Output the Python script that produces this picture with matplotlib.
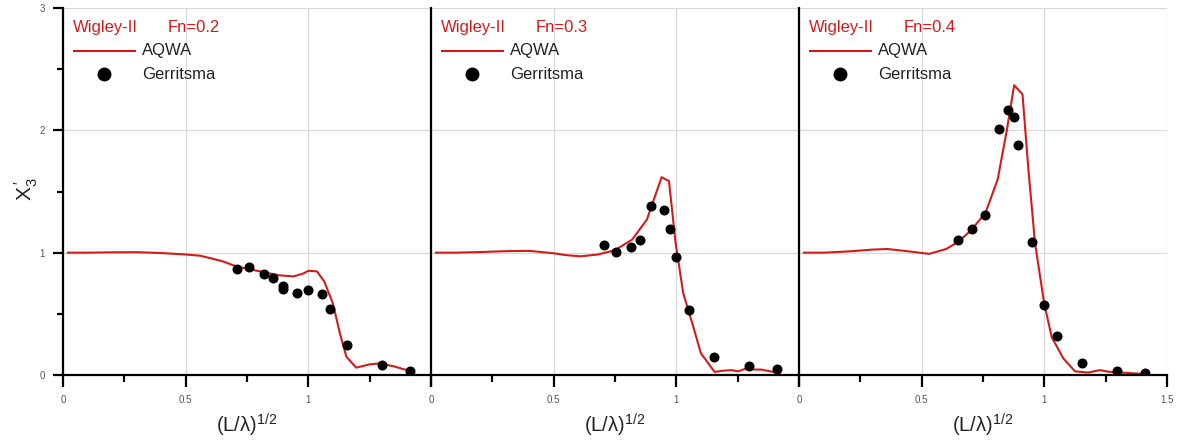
import numpy as np
from matplotlib import pyplot as plt

plt.rcParams['font.family'] = ['Liberation Sans', 'DejaVu Sans']
plt.rcParams['mathtext.fontset'] = 'custom'
plt.rcParams['mathtext.rm'] = 'Liberation Sans'
plt.rcParams['mathtext.it'] = 'Liberation Sans:italic'

# Fn values of the three panels
fn_labels = ['Fn=0.2', 'Fn=0.3', 'Fn=0.4']

# AQWA results
aqwa_x_02 = [0.02, 0.1, 0.2, 0.3, 0.4, 0.5, 0.56, 0.65, 0.71, 0.76, 0.82, 0.88,
             0.94, 0.98, 1.0, 1.035, 1.065, 1.1, 1.13, 1.155, 1.195, 1.25,
             1.29, 1.35, 1.41]
aqwa_y_02 = [1.0, 1.0, 1.003, 1.004, 0.997, 0.985, 0.975, 0.93, 0.885, 0.865,
             0.84, 0.815, 0.806, 0.83, 0.852, 0.847, 0.765, 0.585, 0.33, 0.15,
             0.06, 0.087, 0.095, 0.07, 0.035]

aqwa_x_03 = [0.02, 0.1, 0.2, 0.3, 0.4, 0.5, 0.55, 0.61, 0.68, 0.75, 0.82, 0.88,
             0.94, 0.97, 0.997, 1.028, 1.069, 1.1, 1.156, 1.19, 1.225, 1.252,
             1.279, 1.31, 1.347, 1.408]
aqwa_y_03 = [1.0, 1.0, 1.005, 1.012, 1.015, 0.995, 0.98, 0.97, 0.985, 1.02,
             1.107, 1.27, 1.617, 1.585, 1.08, 0.67, 0.396, 0.178, 0.025, 0.035,
             0.04, 0.03, 0.049, 0.045, 0.044, 0.02]

aqwa_x_04 = [0.02, 0.1, 0.2, 0.3, 0.36, 0.45, 0.53, 0.6, 0.65, 0.7, 0.76, 0.81,
             0.847, 0.877, 0.911, 0.935, 0.962, 0.999, 1.03, 1.077, 1.125,
             1.179, 1.226, 1.26, 1.33, 1.41]
aqwa_y_04 = [1.0, 1.0, 1.01, 1.025, 1.03, 1.01, 0.99, 1.03, 1.09, 1.18, 1.325,
             1.6, 2.0, 2.369, 2.295, 1.68, 1.08, 0.59, 0.31, 0.137, 0.03, 0.02,
             0.04, 0.027, 0.018, 0.008]

# Gerritsma experiments
exp_x_02 = [0.71, 0.76, 0.82, 0.855, 0.898, 0.898, 0.952, 1.0, 1.054, 1.087,
            1.156, 1.30, 1.413]
exp_y_02 = [0.866, 0.88, 0.825, 0.79, 0.724, 0.70, 0.67, 0.697, 0.66, 0.54,
            0.243, 0.082, 0.035]

exp_x_03 = [0.707, 0.756, 0.816, 0.85, 0.896, 0.948, 0.976, 0.998, 1.05, 1.153,
            1.297, 1.41]
exp_y_03 = [1.06, 1.008, 1.05, 1.107, 1.38, 1.35, 1.19, 0.967, 0.535, 0.145,
            0.071, 0.052]

exp_x_04 = [0.65, 0.707, 0.757, 0.816, 0.85, 0.878, 0.894, 0.948, 0.999, 1.05,
            1.154, 1.297, 1.411]
exp_y_04 = [1.107, 1.194, 1.31, 2.01, 2.166, 2.11, 1.88, 1.087, 0.574, 0.317,
            0.10, 0.035, 0.014]

RED = '#d01c1c'
GRID = '#d9d9d9'


def setup_axes(ax, first, last):
    ax.set_xlim(0, 1.5)
    ax.set_ylim(0, 3)
    ax.set_axisbelow(True)
    for side in ['top', 'right']:
        ax.spines[side].set_visible(False)
    for side in ['left', 'bottom']:
        ax.spines[side].set_linewidth(1.6)
    ax.set_xticks([0, 0.5, 1, 1.5])
    ax.set_xticklabels(['0', '0.5', '1', '1.5' if last else ''])
    ax.set_xticks([0.25, 0.75, 1.25], minor=True)
    ax.set_yticks([0, 1, 2, 3])
    ax.set_yticks([0.5, 1.5, 2.5], minor=True)
    ax.tick_params(axis='x', which='major', direction='out', length=8.5,
                   width=1.6, pad=6, labelsize=7, labelcolor='#555555')
    ax.tick_params(axis='x', which='minor', direction='out', length=4.8,
                   width=1.6)
    if first:
        ax.tick_params(axis='y', which='major', direction='out', length=7,
                       width=1.6, pad=6, labelsize=7, labelcolor='#555555')
        ax.tick_params(axis='y', which='minor', direction='out', length=4.5,
                       width=1.6)
    else:
        ax.tick_params(axis='y', which='both', length=0, labelleft=False)
    ax.grid(True, which='major', color=GRID, lw=0.9)
    ax.text(0.5, -0.136, '(L/λ)$^{1/2}$', transform=ax.transAxes,
            ha='center', va='center', fontsize=14.5, color='#222222')


def draw_legend(ax, fn):
    ax.text(0.028, 0.948, 'Wigley-II', transform=ax.transAxes, color=RED,
            fontsize=12, va='center')
    ax.text(0.283, 0.948, fn, transform=ax.transAxes, color=RED,
            fontsize=12, va='center')
    ax.plot([0.03, 0.196], [0.883, 0.883], color=RED, lw=1.5,
            transform=ax.transAxes)
    ax.text(0.215, 0.883, 'AQWA', transform=ax.transAxes, color='#222222',
            fontsize=12, va='center')
    ax.plot([0.112], [0.82], 'o', color='black', ms=9,
            transform=ax.transAxes)
    ax.text(0.215, 0.82, 'Gerritsma', transform=ax.transAxes,
            color='#222222', fontsize=12, va='center')


fig = plt.figure(figsize=(11.87, 4.45), dpi=100)
left = 63 / 1187
width = 368 / 1187
bottom = 70 / 445
height = 367 / 445

aqwa = [(aqwa_x_02, aqwa_y_02), (aqwa_x_03, aqwa_y_03), (aqwa_x_04, aqwa_y_04)]
exp = [(exp_x_02, exp_y_02), (exp_x_03, exp_y_03), (exp_x_04, exp_y_04)]

for i in range(3):
    ax = fig.add_axes([left + i * width, bottom, width, height])
    setup_axes(ax, i == 0, i == 2)
    ax.plot(aqwa[i][0], aqwa[i][1], color=RED, lw=1.5)
    ax.plot(exp[i][0], exp[i][1], 'o', color='black', ms=6.2)
    draw_legend(ax, fn_labels[i])
    if i == 0:
        ax.text(-0.1, 0.505, "X$_3^{\\,\\prime}$", transform=ax.transAxes,
                rotation=90, ha='center', va='center', fontsize=15,
                color='#222222')

plt.savefig('out.png', dpi=100)
